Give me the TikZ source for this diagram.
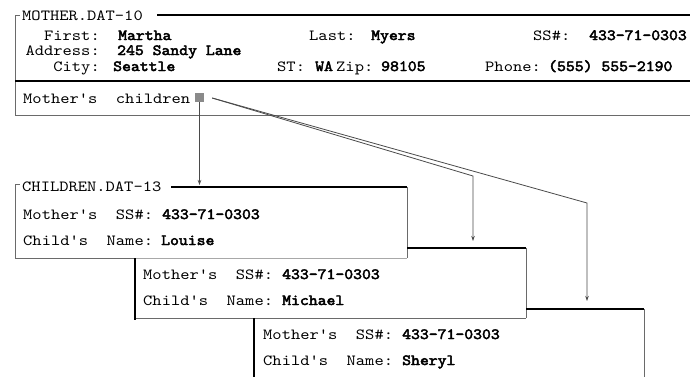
\documentclass[tikz,border=0pt]{standalone}
\usepackage{fontspec}
\setmonofont{lmmono10-regular.otf}[FakeStretch=1.14,BoldFont=lmmono10-regular.otf,BoldFeatures={FakeStretch=1.09,FakeBold=3}]
\usetikzlibrary{arrows.meta}
\definecolor{thin}{HTML}{6A6A6A}
\definecolor{light}{HTML}{A8A8A8}
\definecolor{conn}{HTML}{4A4A4A}
\definecolor{sqfill}{HTML}{8A8A8A}
\tikzset{
  txt/.style={inner sep=0pt, font=\fontsize{15.5bp}{16bp}\ttfamily},
  lab/.style={txt, anchor=base west},
  rlab/.style={txt, anchor=base east},
  val/.style={txt, anchor=base west, font=\fontsize{15.5bp}{16bp}\ttfamily\bfseries},
  thinline/.style={draw=thin, line width=0.9bp},
  thickline/.style={draw=black, line width=2.4bp},
  conline/.style={draw=conn, line width=0.8bp},
  arr/.style={conline, -{Stealth[length=5bp,width=3.5bp]}}
}
\begin{document}
\begin{tikzpicture}[x=1bp,y=-1bp]
\useasboundingbox[fill=white] (0,0) rectangle (690,377);
% ---------- MOTHER box ----------
\draw[thinline] (15,115) -- (15,15) -- (20,15);
\draw[thickline] (157,15) -- (690,15);
\draw[thickline] (15,81) -- (690,81);
\draw[thinline] (15,115) -- (690,115);
\node[lab] (mt) at (22,20.5) {MOTHER.DAT-10};
\node[rlab] (l1) at (100,40) {First:};
\node[val] (v1) at (118,40) {Martha};
\node[rlab] (l2) at (100,55) {Address:};
\node[val] (v2) at (117,55) {245 Sandy Lane};
\node[rlab] (l3) at (100,71) {City:};
\node[val] (v3) at (113,71) {Seattle};
\node[lab] (l4) at (309,40) {Last:};
\node[val] (v4) at (371,40) {Myers};
\node[lab] (l5) at (533,40) {SS\#:};
\node[val] (v5) at (589,40) {433-71-0303};
\node[lab] (l6) at (277,71) {ST:};
\node[val] (v6) at (315,71) {WA};
\node[lab] (l7) at (336,71) {Zip:};
\node[val] (v7) at (381,71) {98105};
\node[lab] (l8) at (485,71) {Phone:};
\node[val] (v8) at (548,71) {(555) 555-2190};
\node[lab] (mc) at (23,103) {Mother's~~children};
\node[fill=sqfill, minimum size=9bp, inner sep=0pt] (sq) at (199.5,97.5) {};
% ---------- CHILDREN box 1 ----------
\draw[thinline] (15,258) -- (15,184) -- (20,184);
\draw[thickline] (171,187) -- (407,187);
\draw[thinline] (407,187) -- (407,258);
\draw[thinline] (15,258) -- (135,258);
\draw[draw=light, line width=0.9bp] (135,258) -- (407,258);
\node[lab] (ct) at (22,191) {CHILDREN.DAT-13};
\node[lab] (c1a) at (23,219) {Mother's~~SS\#:};
\node[val] (c1b) at (162,219) {433-71-0303};
\node[lab] (c1c) at (23,245) {Child's~~Name:};
\node[val] (c1d) at (161,245) {Louise};
% ---------- CHILDREN box 2 ----------
\draw[thickline] (407,248) -- (526,248);
\draw[thinline] (526,248) -- (526,318);
\draw[thinline] (135,318) -- (526,318);
\draw[draw=black, line width=2.2bp] (135,258) -- (135,320);
\node[lab] (c2a) at (143,279) {Mother's~~SS\#:};
\node[val] (c2b) at (282,279) {433-71-0303};
\node[lab] (c2c) at (143,305) {Child's~~Name:};
\node[val] (c2d) at (282,305) {Michael};
% ---------- CHILDREN box 3 ----------
\draw[thickline] (526,309) -- (644,309);
\draw[thinline] (644,309) -- (644,377);
\draw[draw=black, line width=2.2bp] (254,318) -- (254,377);
\node[lab] (c3a) at (263,339) {Mother's~~SS\#:};
\node[val] (c3b) at (402,339) {433-71-0303};
\node[lab] (c3c) at (263,365) {Child's~~Name:};
\node[val] (c3d) at (402,365) {Sheryl};
% ---------- connectors ----------
\coordinate (s0) at ([xshift=8bp,yshift=-0.5bp]sq.east);
\coordinate (a1) at (199.5,185);
\coordinate (k2) at (473,176);
\coordinate (a2) at (473,241);
\coordinate (k3) at (587,203);
\coordinate (a3) at (587,301);
\draw[arr] (sq.south) -- (a1);
\draw[arr] (s0) -- (k2) -- (a2);
\draw[arr] (s0) -- (k3) -- (a3);
\end{tikzpicture}
\end{document}
